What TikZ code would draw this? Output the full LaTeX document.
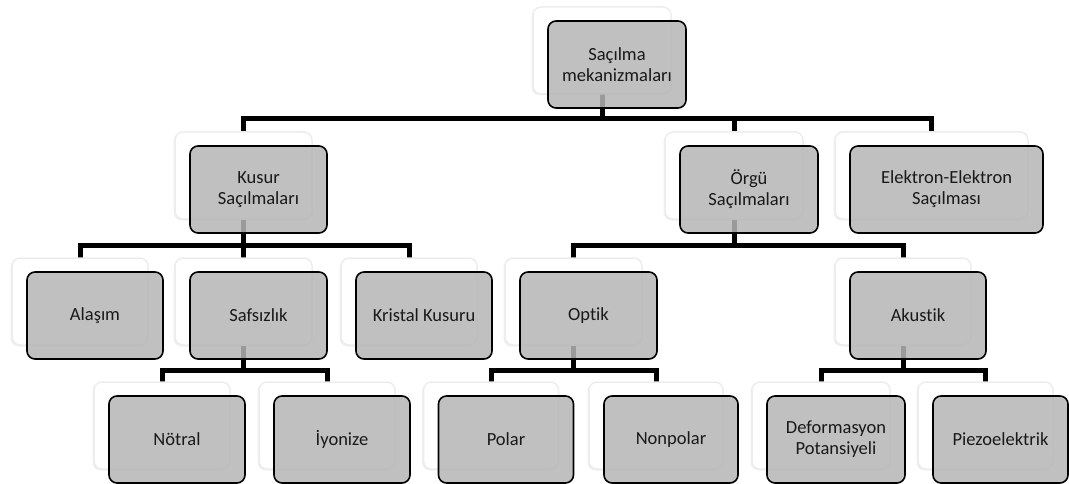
\documentclass[tikz,border=0pt]{standalone}
\usepackage{fontspec}
\setmainfont{Carlito}[Ligatures=NoCommon]
\usepackage{tikz}
\usetikzlibrary{shadows}
\newcommand{\SmartBox}[3]{%
\node[Ghost, minimum width=#2] (#1g) at (#1) {};
\node[MyBoxes, minimum width=#2, xshift=15pt, yshift=-14pt] (#1b) at (#1) {#3};
}

\begin{document}
\begin{tikzpicture}[
x=1pt, y=-1pt,
Ghost/.style={draw=black!7,fill=white,line width=1.5pt,rounded corners=8pt,minimum height=87pt,inner sep=0pt,
  drop shadow={shadow xshift=-1.5pt,shadow yshift=-1.5pt,opacity=0.12}},
MyBoxes/.style={draw=black,line width=1.6pt,fill=black!29,fill opacity=0.85,text opacity=1,
  rounded corners=8pt,minimum height=87pt,inner sep=2pt,align=center,
  font=\fontsize{18.5}{21}\selectfont,text=black!90},
Links/.style={line width=5pt}
]
\useasboundingbox (0,0) rectangle (1069,484);

% centres of the back boxes
\coordinate (top) at (602,50.5);

\coordinate (kusur) at (243.5,175.5);
\coordinate (orgu) at (734,175.5);
\coordinate (elektron) at (931.5,175.5);

\coordinate (alasim) at (80,301.5);
\coordinate (safsizlik) at (243.5,301.5);
\coordinate (kristal) at (409,301.5);
\coordinate (optik) at (573.5,301.5);
\coordinate (akustik) at (903,301.5);

\coordinate (notral) at (162,425.5);
\coordinate (iyonize) at (327,425.5);
\coordinate (polar) at (491,425.5);
\coordinate (nonpolar) at (656,425.5);
\coordinate (deform) at (821,425.5);
\coordinate (piezo) at (985.5,425.5);

% heights of the buses
\coordinate (bus0) at (0,119);
\coordinate (bus1) at (0,245);
\coordinate (bus2) at (0,370);


\draw[Links] (top) -- (top |- bus0);
\draw[Links] (kusur) |- (bus0 -| elektron) -- (elektron);
\draw[Links] (orgu) -- (orgu |- bus0);

\draw[Links] (kusur) -- (kusur |- bus1);
\draw[Links] (alasim) |- (bus1 -| kristal) -- (kristal);
\draw[Links] (safsizlik) -- (safsizlik |- bus1);

\draw[Links] (orgu) -- (orgu |- bus1);
\draw[Links] (optik) |- (bus1 -| akustik) -- (akustik);

\draw[Links] (safsizlik) -- (safsizlik |- bus2);
\draw[Links] (notral) |- (bus2 -| iyonize) -- (iyonize);

\draw[Links] (optik) -- (optik |- bus2);
\draw[Links] (polar) |- (bus2 -| nonpolar) -- (nonpolar);

\draw[Links] (akustik) -- (akustik |- bus2);
\draw[Links] (deform) |- (bus2 -| piezo) -- (piezo);


\SmartBox{top}{138pt}{Saçılma\\mekanizmaları}

\SmartBox{kusur}{137pt}{Kusur\\Saçılmaları}
\SmartBox{orgu}{138pt}{Örgü\\Saçılmaları}
\SmartBox{elektron}{193pt}{Elektron-Elektron\\Saçılması}

\SmartBox{alasim}{136pt}{Alaşım}
\SmartBox{safsizlik}{137pt}{Safsızlık}
\SmartBox{kristal}{136pt}{Kristal Kusuru}
\SmartBox{optik}{137pt}{Optik}
\SmartBox{akustik}{136pt}{Akustik}

\SmartBox{notral}{136pt}{Nötral}
\SmartBox{iyonize}{136pt}{İyonize}
\SmartBox{polar}{135pt}{Polar}
\SmartBox{nonpolar}{134pt}{Nonpolar}
\SmartBox{deform}{138pt}{Deformasyon\\Potansiyeli}
\SmartBox{piezo}{135pt}{Piezoelektrik}

\end{tikzpicture}
\end{document}
